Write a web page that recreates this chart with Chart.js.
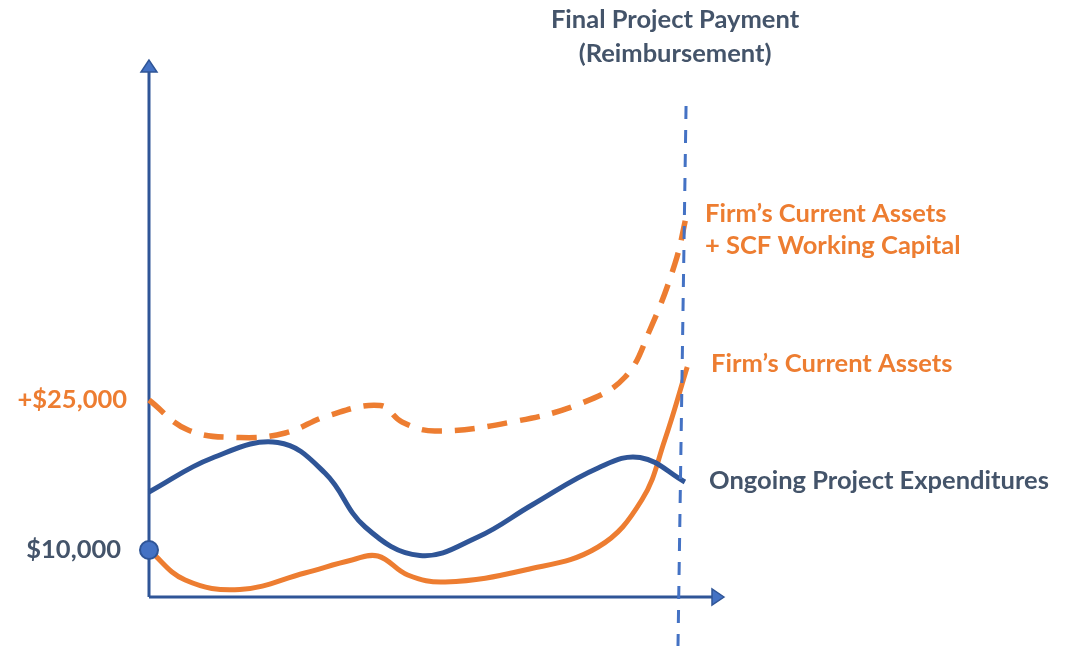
<!DOCTYPE html>
<html>
<head>
<meta charset="utf-8">
<script src="https://cdn.jsdelivr.net/npm/chart.js@4/dist/chart.umd.min.js"></script>
<style>
  html, body { margin: 0; padding: 0; background: #fff; }
  #wrap { width: 1078px; height: 646px; position: relative; }
</style>
</head>
<body>
<div id="wrap"><canvas id="cashChart"></canvas></div>
<script>
// Time runs 0..100 along the x axis, amounts are in dollars
const expendX = [0, 11.0, 22.4, 30.6, 37.6, 47.1, 57.2, 66.6, 78.1, 85.4, 93.2];
const expendY = [15800, 19200, 20750, 17700, 12300, 9450, 11300, 14500, 18200, 19250, 16800];

const assetsX = [0, 6.3, 15.8, 27.1, 35.3, 39.8, 45.0, 51.5, 65.4, 78.1, 85.7, 89.7, 93.6];
const assetsY = [10000, 7000, 6050, 7700, 9000, 9400, 7500, 6800, 8000, 10300, 15000, 21000, 28300];

const scfX = [0, 6.8, 15.8, 23.7, 31.0, 40.2, 44.0, 49.7, 63.1, 75.3, 82.8, 87.1, 91.5, 93.6];
const scfY = [25000, 22000, 21250, 21700, 23400, 24450, 22800, 21900, 22800, 24700, 27300, 32000, 38700, 43800];

// final payment marker (top and bottom ends)
const paymentX = [93.4, 92.0];
const paymentY = [54400, 400];

const tickValues = [25000, 10000];
const tickLabels = ["+$25,000", "$10,000"];

const BLUE = "#2F5597";
const LIGHT_BLUE = "#4472C4";
const ORANGE = "#ED7D31";
const SLATE = "#44546A";
const FONT = "bold 25.5px Lato, 'Open Sans', sans-serif";

function toPoints(xs, ys) {
  return xs.map((x, i) => ({ x: x, y: ys[i] }));
}

// Axis lines with arrow heads
const axesPlugin = {
  id: "axesArrows",
  beforeDatasetsDraw(chart) {
    const { ctx, chartArea } = chart;
    const { left, right, top, bottom } = chartArea;
    ctx.save();
    ctx.strokeStyle = BLUE;
    ctx.fillStyle = LIGHT_BLUE;
    ctx.lineWidth = 3;
    ctx.beginPath();
    ctx.moveTo(left, bottom);
    ctx.lineTo(left, top + 10);
    ctx.moveTo(left, bottom);
    ctx.lineTo(right - 10, bottom);
    ctx.stroke();

    ctx.lineWidth = 1.5;
    ctx.beginPath();
    ctx.moveTo(left, top);
    ctx.lineTo(left - 8, top + 12);
    ctx.lineTo(left + 8, top + 12);
    ctx.closePath();
    ctx.fill();
    ctx.stroke();

    ctx.beginPath();
    ctx.moveTo(right, bottom);
    ctx.lineTo(right - 12, bottom - 8);
    ctx.lineTo(right - 12, bottom + 8);
    ctx.closePath();
    ctx.fill();
    ctx.stroke();
    ctx.restore();
  }
};

// Value labels on the y axis and names beside each curve
const labelsPlugin = {
  id: "curveLabels",
  afterDraw(chart) {
    const { ctx } = chart;
    const xs = chart.scales.x;
    const ys = chart.scales.y;
    ctx.save();
    ctx.font = FONT;
    ctx.textBaseline = "middle";

    ctx.textAlign = "right";
    tickValues.forEach((v, i) => {
      ctx.fillStyle = i === 0 ? ORANGE : SLATE;
      ctx.fillText(tickLabels[i], xs.getPixelForValue(0) - 22 - (i === 0 ? 0 : 6), ys.getPixelForValue(v));
    });

    ctx.textAlign = "center";
    ctx.fillStyle = SLATE;
    const px = xs.getPixelForValue(paymentX[0]) - 11;
    ctx.fillText("Final Project Payment", px, 20);
    ctx.fillText("(Reimbursement)", px, 54);

    ctx.textAlign = "left";
    ctx.fillStyle = ORANGE;
    ctx.fillText("Firm\u2019s Current Assets", 705, 214);
    ctx.fillText("+ SCF Working Capital", 705, 246);
    ctx.fillText("Firm\u2019s Current Assets", 711, 364);
    ctx.fillStyle = SLATE;
    ctx.fillText("Ongoing Project Expenditures", 709, 481);
    ctx.restore();
  }
};

const ctx = document.getElementById("cashChart").getContext("2d");
new Chart(ctx, {
  type: "line",
  data: {
    datasets: [
      {
        label: "Final Project Payment",
        data: toPoints(paymentX, paymentY),
        borderColor: LIGHT_BLUE,
        borderWidth: 3,
        borderDash: [13, 11],
        pointRadius: 0,
        clip: false
      },
      {
        label: "Firm's Current Assets + SCF Working Capital",
        data: toPoints(scfX, scfY),
        borderColor: ORANGE,
        borderWidth: 5.5,
        borderDash: [20, 13],
        tension: 0.4,
        pointRadius: 0,
        clip: false
      },
      {
        label: "Ongoing Project Expenditures",
        data: toPoints(expendX, expendY),
        borderColor: BLUE,
        borderWidth: 5,
        tension: 0.4,
        pointRadius: 0,
        clip: false
      },
      {
        label: "Firm's Current Assets",
        data: toPoints(assetsX, assetsY),
        borderColor: ORANGE,
        borderWidth: 5,
        tension: 0.4,
        pointRadius: (c) => (c.dataIndex === 0 ? 9 : 0),
        pointBackgroundColor: LIGHT_BLUE,
        pointBorderColor: BLUE,
        pointBorderWidth: 2,
        clip: false
      }
    ]
  },
  options: {
    responsive: true,
    maintainAspectRatio: false,
    animation: false,
    layout: { padding: { left: 149, right: 354, top: 60, bottom: 49 } },
    plugins: {
      legend: { display: false },
      tooltip: { enabled: false }
    },
    scales: {
      x: { type: "linear", min: 0, max: 100, display: false },
      y: { type: "linear", min: 5300, max: 59000, display: false }
    }
  },
  plugins: [axesPlugin, labelsPlugin]
});
</script>
</body>
</html>
